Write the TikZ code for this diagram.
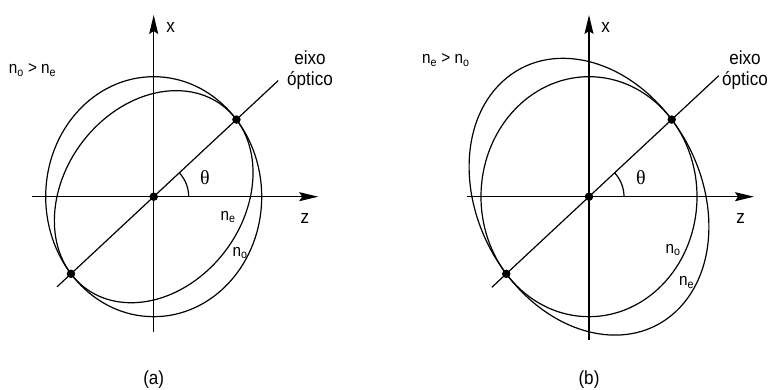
\documentclass[tikz,border=0pt]{standalone}
\usepackage{fontspec}
\setmainfont{Liberation Sans}[FakeStretch=0.9]
\newfontfamily\thetafont{Liberation Serif}
\usetikzlibrary{arrows.meta}

\begin{document}
\begin{tikzpicture}[x=1pt, y=1pt, line width=1.2pt,
  axis/.style={-{Stealth[length=19pt, width=9pt, inset=3pt]}},
  dot/.style={circle, fill=black, inner sep=0pt, minimum size=8.5pt},
  big/.style={font=\fontsize{19}{21}\selectfont, inner sep=0pt},
  small/.style={font=\fontsize{17}{19}\selectfont, inner sep=0pt},
  ang/.style={font=\thetafont\fontsize{20}{22}\selectfont, inner sep=0pt}]
  \useasboundingbox (0,0) rectangle (769,390);

  % (a) n_o > n_e
  \begin{scope}[shift={(153.7,193.3)}]
    \coordinate (xa0) at (0,-135);
    \coordinate (xa1) at (0,181.7);
    \coordinate (za0) at (-121.7,0);
    \coordinate (za1) at (164.5,0);
    \draw[axis] (xa0) -- (xa1);
    \draw[axis] (za0) -- (za1);
    \begin{scope}[xscale=0.9]
      \draw (0,0) circle (120);
      \draw[rotate=40] (0,0) ellipse (120 and 95);
      \coordinate (pa1) at (40:120);
      \coordinate (pa2) at (220:120);
      \coordinate (ea0) at (220:140.3);
      \coordinate (ea1) at (40:180.7);
    \end{scope}
    \draw (ea0) -- (ea1);
    \draw (35,0) arc[start angle=0, end angle=43, radius=35];
    \node[dot] (oa) at (0,0) {};
    \node[dot] (da1) at (pa1) {};
    \node[dot] (da2) at (pa2) {};
    \node[big] (xlab) at (17,169.7) {x};
    \node[big] (zlab) at (151.3,-21.3) {z};
    \node[ang] (tha) at (51.3,18.7) {θ};
    \node[big, align=center] (eixoa) at (156.3,126.2) {eixo\\óptico};
    \node[small] (nea) at (74.3,-20.3) {n\textsubscript{e}};
    \node[small] (noa) at (86.3,-56.3) {n\textsubscript{o}};
  \end{scope}
  \node[small] (conda) at (32.5,320) {n\textsubscript{o} > n\textsubscript{e}};
  \node[big] (capa) at (153.7,10) {(a)};

  % (b) n_e > n_o
  \begin{scope}[shift={(589,193.3)}]
    \coordinate (xb0) at (0,-143.3);
    \coordinate (xb1) at (0,181.7);
    \coordinate (zb0) at (-121.7,0);
    \coordinate (zb1) at (165,0);
    \draw[axis] (xb0) -- (xb1);
    \draw[axis] (zb0) -- (zb1);
    \begin{scope}[xscale=0.9]
      \draw (0,0) circle (120);
      \draw[rotate=40] (0,0) ellipse (120 and 150);
      \coordinate (pb1) at (40:120);
      \coordinate (pb2) at (220:120);
      \coordinate (eb0) at (220:141);
      \coordinate (eb1) at (40:188.3);
    \end{scope}
    \draw (eb0) -- (eb1);
    \draw (35,0) arc[start angle=0, end angle=43, radius=35];
    \node[dot] (ob) at (0,0) {};
    \node[dot] (db1) at (pb1) {};
    \node[dot] (db2) at (pb2) {};
    \node[big] (xlabb) at (16.7,169.7) {x};
    \node[big] (zlabb) at (151.7,-21.3) {z};
    \node[ang] (thb) at (52,18.7) {θ};
    \node[big, align=center] (eixob) at (156,126.2) {eixo\\óptico};
    \node[small] (nob) at (84,-53.3) {n\textsubscript{o}};
    \node[small] (neb) at (97.7,-86) {n\textsubscript{e}};
  \end{scope}
  \node[small] (condb) at (445.8,330) {n\textsubscript{e} > n\textsubscript{o}};
  \node[big] (capb) at (589,10) {(b)};
\end{tikzpicture}
\end{document}
